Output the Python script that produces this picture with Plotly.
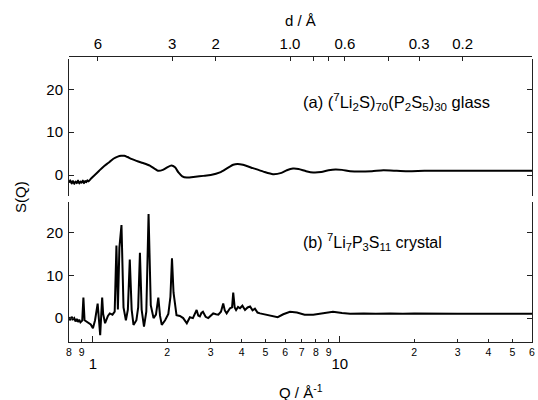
import numpy as np
import plotly.graph_objects as go

# (a) glass
q_glass = [0.80, 0.81, 0.82, 0.83, 0.84, 0.85, 0.86, 0.87, 0.88, 0.89, 0.90, 0.91,
           0.92, 0.93, 0.94, 0.95, 0.96, 0.98, 1.00, 1.03, 1.06, 1.10, 1.14, 1.17,
           1.21, 1.26, 1.30, 1.34, 1.38, 1.44, 1.50, 1.595, 1.70, 1.834, 1.92, 2.00,
           2.08, 2.15, 2.22, 2.30, 2.40, 2.60, 2.80, 3.00, 3.27, 3.50, 3.70, 3.85,
           4.05, 4.45, 4.90, 5.36, 5.80, 6.10, 6.46, 6.80, 7.30, 7.80, 8.40, 9.00,
           9.60, 10.2, 11.0, 12.0, 13.5, 15, 17, 19, 22, 25, 30, 35, 40, 50, 60]
s_glass = [-1.8, -1.2, -2.0, -1.4, -2.1, -1.5, -1.9, -1.3, -2.0, -1.5, -1.8, -1.3,
           -1.9, -1.4, -1.7, -1.2, -1.5, -0.9, -0.4, 0.3, 1.0, 1.9, 2.6, 3.1,
           3.8, 4.3, 4.5, 4.5, 4.2, 3.7, 3.3, 2.8, 2.2, 1.0, 1.2, 1.8,
           2.2, 1.8, 0.6, -0.3, -0.6, -0.4, -0.2, 0.0, 0.6, 1.6, 2.4, 2.6,
           2.4, 1.6, 0.8, 0.2, 0.5, 1.1, 1.5, 1.4, 0.9, 0.6, 0.7, 1.1,
           1.3, 1.2, 0.9, 0.8, 0.9, 1.1, 1.0, 0.9, 1.0, 1.0, 1.0, 1.0, 1.0, 1.0, 1.0]

# (b) crystal
q_cryst = [0.80, 0.81, 0.82, 0.83, 0.84, 0.85, 0.86, 0.87, 0.88, 0.89, 0.905, 0.915,
           0.925, 0.94, 0.96, 0.98, 1.00, 1.02, 1.045, 1.06, 1.07, 1.08, 1.09, 1.10,
           1.12, 1.15, 1.17, 1.20, 1.225, 1.245, 1.262, 1.28, 1.305, 1.33, 1.36, 1.385,
           1.41, 1.435, 1.46, 1.50, 1.525, 1.55, 1.575, 1.61, 1.645, 1.68, 1.715, 1.76,
           1.80, 1.84, 1.87, 1.90, 1.96, 2.02, 2.06, 2.09, 2.12, 2.18, 2.25, 2.32,
           2.40, 2.47, 2.54, 2.63, 2.67, 2.71, 2.75, 2.79, 2.86, 2.93, 3.00, 3.07,
           3.15, 3.22, 3.30, 3.37, 3.42, 3.48, 3.59, 3.66, 3.70, 3.75, 3.80, 3.87,
           3.94, 4.03, 4.13, 4.23, 4.33, 4.43, 4.53, 4.64, 4.75, 5.00, 5.30, 5.60,
           5.90, 6.28, 6.70, 7.20, 7.80, 8.50, 9.38, 10.2, 11, 12.5, 14, 16, 18, 20,
           25, 30, 40, 50, 60]
s_cryst = [0.2, -0.5, 0.3, -0.3, 0.0, -0.8, -0.2, -0.9, -0.4, -1.0, -0.6, 4.8,
           -0.5, -0.8, -1.2, -1.5, -2.4, -0.5, 3.4, -1.5, -4.0, 0.5, 4.8, 1.0,
           -1.2, 0.5, 1.1, 0.8, 1.5, 17.0, 2.0, 16.5, 21.8, 2.5, -0.5, 2.0,
           13.7, 2.0, -1.6, -0.5, 2.5, 15.3, 2.0, -2.0, 1.5, 24.4, 3.0, 0.0,
           0.8, 4.8, 0.5, -1.6, -0.5, 1.0, 5.0, 14.0, 6.0, 0.7, 0.5, 0.0,
           -1.2, 0.2, 0.0, 1.9, 0.6, 0.4, 1.2, 1.5, 0.3, 0.0, 0.6, 1.1,
           0.9, 0.8, 1.5, 3.4, 1.8, 1.1, 2.3, 2.5, 6.0, 2.5, 1.9, 2.6,
           2.3, 2.9, 1.9, 2.5, 2.7, 1.8, 2.2, 1.3, 1.1, 0.8, 0.4, 0.2,
           0.9, 1.5, 1.3, 0.8, 0.8, 1.1, 1.5, 1.2, 1.0, 1.1, 1.0, 1.1, 1.0, 1.1,
           1.0, 1.0, 1.0, 1.0, 1.0]

# axis ticks
q_minor = [0.8, 0.9, 2, 3, 4, 5, 6, 7, 8, 9, 20, 30, 40, 50, 60]
q_minor_text = ['8', '9', '2', '3', '4', '5', '6', '7', '8', '9', '2', '3', '4', '5', '6']
q_major = [1, 10]
q_major_text = ['1', '10']
d_ticks = [6, 3, 2, 1.0, 0.8, 0.7, 0.6, 0.4, 0.3, 0.2]
d_text = ['6', '3', '2', '1.0', '', '', '0.6', '', '0.3', '0.2']

W, H = 538, 400
L, R = 69, 6
xr = [np.log10(0.8), np.log10(60)]
font = 'Liberation Sans, Arial, sans-serif'
ink = '#222'

def py(px):
    return 1 - px / H

def px_x(px):
    return (px - L) / (W - L - R)

fig = go.Figure()
fig.add_trace(go.Scatter(x=q_glass, y=s_glass, xaxis='x', yaxis='y', mode='lines',
                         line=dict(color='black', width=2, shape='spline', smoothing=0.6),
                         showlegend=False, hoverinfo='skip'))
fig.add_trace(go.Scatter(x=q_cryst, y=s_cryst, xaxis='x', yaxis='y2', mode='lines',
                         line=dict(color='black', width=2),
                         showlegend=False, hoverinfo='skip'))
# empty traces so the overlay axes get drawn
fig.add_trace(go.Scatter(x=[], y=[], xaxis='x2', yaxis='y', showlegend=False))
fig.add_trace(go.Scatter(x=[], y=[], xaxis='x3', yaxis='y2', showlegend=False))

yax = dict(tickvals=[0, 10, 20], ticks='inside', ticklen=5, tickwidth=1,
           tickcolor=ink, showline=True, linecolor=ink, linewidth=1, mirror='ticks',
           showgrid=False, zeroline=False, tickfont=dict(family=font, size=15, color='black'),
           ticklabelstandoff=2, anchor='x', automargin=False)

def label(text, x, y, size=15, **kw):
    return dict(text=text, x=x, y=y, xref='paper', yref='paper', yanchor='middle',
                showarrow=False, font=dict(family=font, size=size, color='black'), **kw)

fig.update_layout(
    width=W, height=H,
    margin=dict(l=L, r=R, t=0, b=0),
    paper_bgcolor='white', plot_bgcolor='white',
    xaxis=dict(type='log', range=xr, domain=[0, 1], anchor='y2', automargin=False,
               tickmode='array', tickvals=q_minor, ticktext=q_minor_text,
               ticks='inside', ticklen=3, tickwidth=1, tickcolor=ink, ticklabeloverflow='allow',
               showline=True, linecolor=ink, linewidth=1, showgrid=False, zeroline=False,
               tickfont=dict(family=font, size=10.5, color='black'), ticklabelstandoff=0),
    xaxis3=dict(type='log', range=xr, overlaying='x', anchor='y2', side='bottom',
                automargin=False, tickmode='array', tickvals=q_major, ticktext=q_major_text,
                ticks='inside', ticklen=6, tickwidth=1, tickcolor=ink,
                showline=False, showgrid=False, zeroline=False,
                tickfont=dict(family=font, size=15, color='black'), ticklabelstandoff=11),
    xaxis2=dict(type='log', range=xr, overlaying='x', anchor='free', side='top',
                position=py(55.7), automargin=False, tickmode='array',
                tickvals=[2 * np.pi / d for d in d_ticks], ticktext=d_text,
                ticks='inside', ticklen=4, tickwidth=1, tickcolor=ink,
                showline=True, linecolor=ink, linewidth=1, showgrid=False, zeroline=False,
                tickfont=dict(family=font, size=15, color='black'), ticklabelstandoff=1),
    yaxis=dict(yax, domain=[py(196), py(59)], range=[-4.9, 27.1]),
    yaxis2=dict(yax, domain=[py(342), py(202)], range=[-5.6, 27.2]),
    annotations=[
        label('S(Q)', px_x(21), py(197), textangle=-90, xanchor='center'),
        label('Q / Å<sup>-1</sup>', 0.5, py(391), xanchor='center'),
        label('d / Å', 0.5, py(20.6), xanchor='center'),
        label('(a) (<sup>7</sup>Li<sub>2</sub>S)<sub>70</sub>(P<sub>2</sub>S<sub>5</sub>)<sub>30</sub> glass',
              px_x(300.7), py(101.7), size=16.5, xanchor='left'),
        label('(b) <sup>7</sup>Li<sub>7</sub>P<sub>3</sub>S<sub>11</sub> crystal',
              px_x(300.7), py(241.7), size=16, xanchor='left'),
    ],
)

# the page body has a default 8px margin; drop it so the figure sits at 0,0
fig.write_html("out.html", config={'displayModeBar': False},
               post_script="document.body.style.margin='0';")
